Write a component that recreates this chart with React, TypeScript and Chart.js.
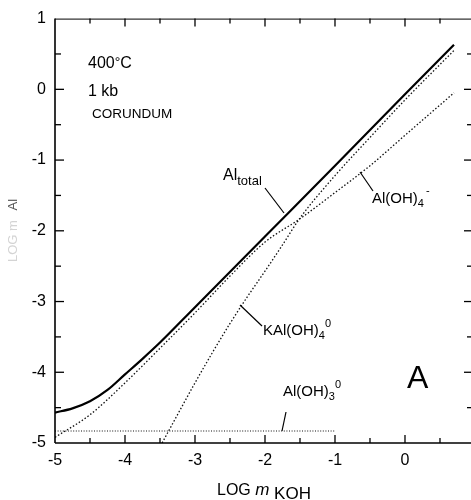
import React, { useEffect, useRef } from "react";
import { Chart, registerables } from "chart.js";
Chart.register(...registerables);

const FONT = '"Liberation Sans", Arial, Helvetica, sans-serif';

// Al total (solid)
const totalX = [-5, -4.75, -4.5, -4.25, -4, -3.75, -3.5, -3, -2, -1, 0, 0.7];
const totalY = [-4.57, -4.51, -4.41, -4.25, -4.03, -3.81, -3.58, -3.08, -2.08, -1.08, -0.07, 0.63];
// Al(OH)4- (dotted)
const aloh4X = [-5, -4.5, -4, -3.5, -3, -2.5, -2, -1.5, -1, -0.5, 0, 0.7];
const aloh4Y = [-4.92, -4.6, -4.15, -3.66, -3.16, -2.64, -2.16, -1.83, -1.46, -1.08, -0.65, -0.05];
// KAl(OH)4 0 (dotted)
const kalX = [-3.47, -3.25, -3, -2.75, -2.5, -2.25, -2, -1.75, -1.5, -1, -0.5, 0, 0.7];
const kalY = [-5.0, -4.6, -4.15, -3.72, -3.31, -2.93, -2.57, -2.2, -1.82, -1.22, -0.68, -0.15, 0.55];
// Al(OH)3 0 (dotted)
const aloh3X = [-5, -1];
const aloh3Y = [-4.83, -4.83];

const xMajor = [-5, -4, -3, -2, -1, 0];
const xMinor = [-4.5, -3.5, -2.5, -1.5, -0.5, 0.5];
const yMajor = [-5, -4, -3, -2, -1, 0, 1];
const yMinor = [-4.5, -3.5, -2.5, -1.5, -0.5, 0.5];

const pts = (xs: number[], ys: number[]) => xs.map((x, i) => ({ x, y: ys[i] }));

type Part = [string, number, number?, string?];
function rich(ctx: CanvasRenderingContext2D, x: number, y: number, parts: Part[]) {
  let cx = x;
  for (const [t, size, dy = 0, style = ""] of parts) {
    ctx.font = `${style} ${size}px ${FONT}`;
    ctx.fillText(t, cx, y + dy);
    cx += ctx.measureText(t).width;
  }
}
function line(ctx: CanvasRenderingContext2D, x1: number, y1: number, x2: number, y2: number, w = 1.2) {
  ctx.beginPath();
  ctx.lineWidth = w;
  ctx.moveTo(x1, y1);
  ctx.lineTo(x2, y2);
  ctx.stroke();
}

const decor = {
  id: "decor",
  afterDraw(chart: any) {
    const ctx: CanvasRenderingContext2D = chart.ctx;
    const { left, right, top, bottom } = chart.chartArea;
    const xs = chart.scales.x;
    const ys = chart.scales.y;
    ctx.save();
    ctx.strokeStyle = "#000";
    ctx.fillStyle = "#000";
    // frame (right edge falls outside the picture)
    line(ctx, left, top, left, bottom, 1.6);
    line(ctx, left, bottom, right, bottom, 1.4);
    line(ctx, left, top + 0.5, right, top + 0.5, 1);
    // ticks
    const tk = (vals: number[], len: number) => {
      for (const v of vals) {
        const px = xs.getPixelForValue(v);
        if (px > left + 1 && px < right - 1) {
          line(ctx, px, bottom, px, bottom - len, 1.3);
          line(ctx, px, top, px, top + len, 1.3);
        }
      }
    };
    tk(xMajor, 8);
    tk(xMinor, 5);
    const tky = (vals: number[], len: number) => {
      for (const v of vals) {
        const py = ys.getPixelForValue(v);
        if (py > top + 1 && py < bottom - 1) {
          line(ctx, left, py, left + len, py, 1.3);
          line(ctx, right, py, right - len + 2, py, 1.3);
        }
      }
    };
    tky(yMajor, 9);
    tky(yMinor, 6);

    // annotations
    ctx.textBaseline = "alphabetic";
    ctx.textAlign = "left";
    rich(ctx, 88, 68, [["400", 16], ["°", 14, -1], ["C", 16]]);
    rich(ctx, 88, 96, [["1 kb", 16]]);
    rich(ctx, 92, 118, [["CORUNDUM", 13.5]]);
    rich(ctx, 223, 180, [["Al", 16], ["total", 13, 5]]);
    line(ctx, 265, 188, 284, 213);
    rich(ctx, 372, 203, [["Al(OH)", 15], ["4", 11, 4]]);
    rich(ctx, 426, 194, [["-", 11]]);
    line(ctx, 360, 172, 373, 191);
    rich(ctx, 263, 335, [["KAl(OH)", 15], ["4", 11, 4], ["0", 11, -8]]);
    line(ctx, 240, 305, 262, 326);
    rich(ctx, 283, 396, [["Al(OH)", 15], ["3", 11, 4], ["0", 11, -8]]);
    line(ctx, 286, 412, 282, 431);
    rich(ctx, 407, 388, [["A", 32]]);

    // x title
    rich(ctx, 217, 495, [["LOG ", 16], ["m", 17, 0, "italic"], [" KOH", 17, 4]]);

    // y title (mostly faded in the original)
    ctx.translate(17, 262);
    ctx.rotate(-Math.PI / 2);
    ctx.fillStyle = "#d4d4d4";
    ctx.font = `13px ${FONT}`;
    ctx.fillText("LOG m ", 0, 0);
    const w = ctx.measureText("LOG m ").width;
    ctx.fillStyle = "#555";
    ctx.fillText("Al", w + 6, 0);
    ctx.restore();
  },
};

export default function App() {
  const ref = useRef<HTMLCanvasElement>(null);
  useEffect(() => {
    document.body.style.margin = "0";
    const dotted = { borderColor: "#111", borderWidth: 1.3, borderDash: [1.5, 2], pointRadius: 0, showLine: true, fill: false, cubicInterpolationMode: "monotone" as const };
    const chart = new Chart(ref.current!, {
      type: "scatter",
      data: {
        datasets: [
          { label: "Al total", data: pts(totalX, totalY), borderColor: "#000", borderWidth: 2.2, pointRadius: 0, showLine: true, fill: false, cubicInterpolationMode: "monotone" },
          { label: "Al(OH)4-", data: pts(aloh4X, aloh4Y), ...dotted },
          { label: "KAl(OH)4 0", data: pts(kalX, kalY), ...dotted },
          { label: "Al(OH)3 0", data: pts(aloh3X, aloh3Y), ...dotted, borderWidth: 1.1, borderDash: [1, 1.6] },
        ],
      },
      options: {
        animation: false,
        responsive: false,
        devicePixelRatio: 1,
        layout: { padding: { left: 0, top: 16, right: 0, bottom: 0 } },
        plugins: { legend: { display: false }, tooltip: { enabled: false } },
        scales: {
          x: {
            type: "linear",
            min: -5,
            max: 0.943,
            grid: { display: false, drawTicks: false },
            border: { display: false },
            ticks: {
              stepSize: 1,
              includeBounds: false,
              padding: 8,
              color: "#000",
              font: { family: FONT, size: 16 },
              callback: (v: any) => (Number.isInteger(v) ? String(v) : ""),
            },
            afterFit: (s: any) => { s.height = 57; },
          },
          y: {
            type: "linear",
            min: -5,
            max: 1,
            grid: { display: false, drawTicks: false },
            border: { display: false },
            ticks: {
              stepSize: 1,
              padding: 9,
              color: "#000",
              font: { family: FONT, size: 16 },
              callback: (v: any) => (Number.isInteger(v) ? String(v) : ""),
            },
            afterFit: (s: any) => { s.width = 55; },
          },
        },
      },
      plugins: [decor],
    });
    return () => chart.destroy();
  }, []);
  return (
    <div style={{ width: 471, height: 500, background: "#fff" }}>
      <canvas ref={ref} width={471} height={500} style={{ display: "block" }} />
    </div>
  );
}
